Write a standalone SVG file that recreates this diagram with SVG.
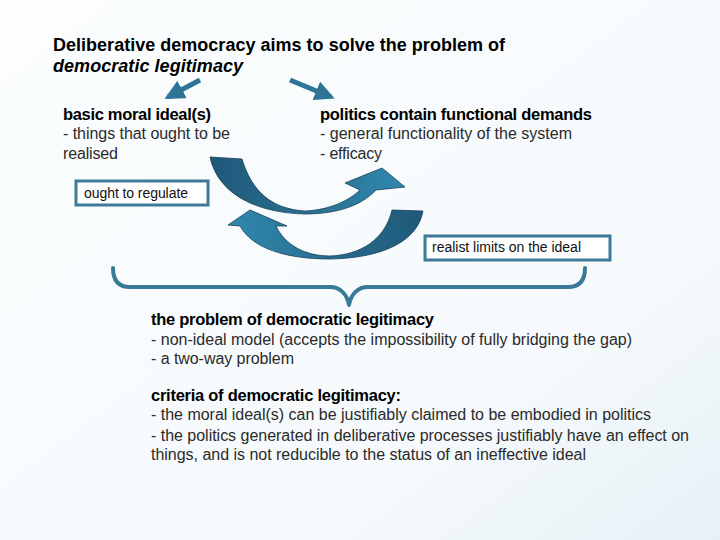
<svg xmlns="http://www.w3.org/2000/svg" width="720" height="540" viewBox="0 0 720 540">
<defs>
<style>
text{font-family:"Liberation Sans",Arial,sans-serif;fill:#1a1a1a}
.t{font-size:18px;font-weight:bold;fill:#000}
.h{font-size:16.5px;font-weight:bold;fill:#000}
.b{font-size:16px;fill:#2a2a2a}
.s{font-size:14px;fill:#111}
.box{fill:#ffffff;stroke:#3d7b98;stroke-width:3}
.brace{fill:none;stroke:#3a7a99;stroke-width:4;stroke-linecap:round;stroke-linejoin:round}
.sa{stroke:#2e7497;stroke-width:5;fill:none}
.curv{stroke:#1b3f55;stroke-width:0.8}
</style>
<linearGradient id="g1" x1="0" y1="0" x2="1" y2="0">
<stop offset="0" stop-color="#1f5878"/>
<stop offset="1" stop-color="#3088ad"/>
</linearGradient>
<linearGradient id="g2" x1="1" y1="0" x2="0" y2="0">
<stop offset="0" stop-color="#1f5878"/>
<stop offset="1" stop-color="#3088ad"/>
</linearGradient>
<linearGradient id="bg" x1="0" y1="0" x2="1" y2="1">
<stop offset="0" stop-color="#fbfdfe"/>
<stop offset="0.7" stop-color="#f6fafc"/>
<stop offset="1" stop-color="#e6f1f6"/>
</linearGradient>
<marker id="ah" viewBox="0 0 10 10" refX="8" refY="5" markerWidth="4" markerHeight="4" orient="auto" markerUnits="strokeWidth">
<path d="M0,0 L10,5 L0,10 Z" fill="#2e7497"/>
</marker>
</defs>
<rect width="720" height="540" fill="url(#bg)"/>

<g id="title">
<text class="t" x="53" y="51" textLength="452">Deliberative democracy aims to solve the problem of</text>
<text class="t" x="53" y="72" textLength="190" font-style="italic">democratic legitimacy</text>
</g>

<g id="connectors">
<line class="sa" x1="200" y1="80" x2="168" y2="97" marker-end="url(#ah)"/>
<line class="sa" x1="290" y1="80" x2="331" y2="97" marker-end="url(#ah)"/>
<path id="curved-top" class="curv" fill="url(#g1)" d="M210,157 L242,159 C252,192 272,209 305,211 C330,210 350,200 360,190 L345,183 L382,168 L405,187 L376,190 C362,205 338,214 305,214 C258,213 218,195 210,157 Z"/>
<path id="curved-bottom" class="curv" fill="url(#g2)" d="M423,211 L392,210 C385,240 360,255 330,256 C305,256 285,245 276,226 L287,226 L250,210 L228,225 L240,226 C252,248 285,259 330,259 C385,258 418,240 423,211 Z"/>
<path id="brace" class="brace" d="M113,268 C113,280 118,287 130,287 L330,287 C340,287 347,294 349,305 C351,294 358,287 368,287 L568,287 C580,287 585,280 585,268"/>
</g>

<g id="node-ideal">
<text class="h" x="63" y="120" textLength="148">basic moral ideal(s)</text>
<text class="b" x="63" y="139" textLength="167">- things that ought to be</text>
<text class="b" x="63" y="159" textLength="55">realised</text>
</g>

<g id="node-politics">
<text class="h" x="320" y="120" textLength="272">politics contain functional demands</text>
<text class="b" x="320" y="139" textLength="252">- general functionality of the system</text>
<text class="b" x="320" y="159" textLength="62">- efficacy</text>
</g>

<g id="node-ought">
<rect class="box" x="76" y="181" width="132" height="24"/>
<text class="s" x="84" y="198" textLength="104">ought to regulate</text>
</g>

<g id="node-realist">
<rect class="box" x="425" y="236" width="185" height="24"/>
<text class="s" x="432" y="252" textLength="149">realist limits on the ideal</text>
</g>

<g id="node-problem">
<text class="h" x="151" y="325" textLength="283">the problem of democratic legitimacy</text>
<text class="b" x="151" y="345" textLength="481">- non-ideal model (accepts the impossibility of fully bridging the gap)</text>
<text class="b" x="151" y="364" textLength="143">- a two-way problem</text>
</g>

<g id="node-criteria">
<text class="h" x="151" y="401" textLength="250">criteria of democratic legitimacy:</text>
<text class="b" x="151" y="420" textLength="500">- the moral ideal(s) can be justifiably claimed to be embodied in politics</text>
<text class="b" x="151" y="441" textLength="538">- the politics generated in deliberative processes justifiably have an effect on</text>
<text class="b" x="151" y="460" textLength="435">things, and is not reducible to the status of an ineffective ideal</text>
</g>
</svg>
